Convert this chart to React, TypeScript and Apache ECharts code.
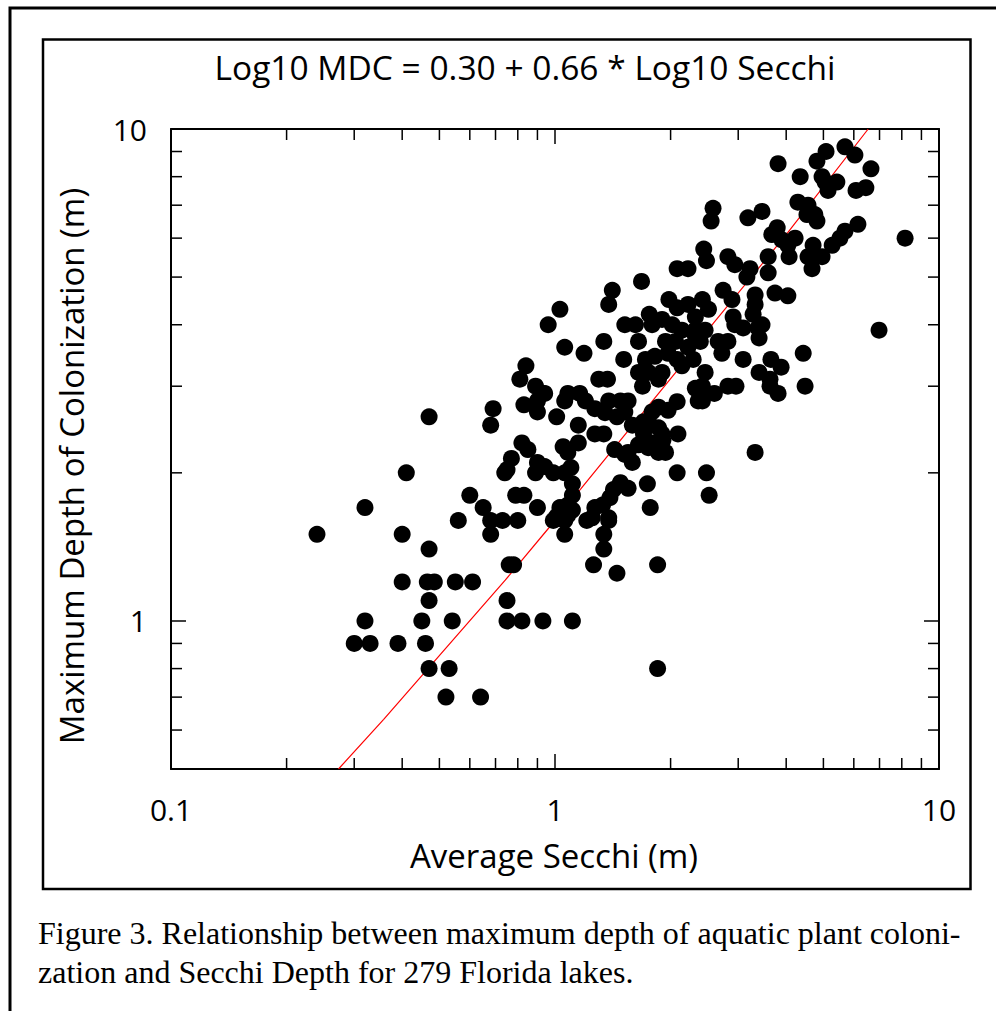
import React, { useEffect, useRef } from "react";
import * as echarts from "echarts";

// Average Secchi depth (m) for each lake
const secchi = [
  0.47, 0.69, 0.68, 0.41, 0.74, 0.6, 0.32, 0.65, 0.56, 0.68, 0.73, 0.24, 0.4, 0.68, 0.47, 0.4, 0.465, 0.485, 0.55, 0.61,
  0.47, 0.32, 0.45, 0.54, 0.3, 0.33, 0.39, 0.46, 0.47, 0.53, 0.52, 0.64, 0.8, 0.99, 1.06, 1.21, 1.38, 1.06, 1.34, 1.34,
  0.76, 0.78, 1.26, 1.45, 1.85, 0.75, 0.75, 0.82, 0.93, 1.11, 1.85, 0.96, 1.52, 1.62, 1.79, 2.02, 2.14, 2.32, 2.46, 1.06,
  1.19, 1.34, 1.65, 1.94, 2.06, 2.22, 2.32, 1.51, 1.72, 1.82, 1.97, 2.08, 2.14, 2.29, 1.65, 1.75, 1.69, 1.86, 1.9, 2.46,
  0.84, 0.81, 0.89, 0.93, 0.9, 0.94, 0.83, 0.9, 1.08, 1.16, 1.2, 1.06, 1.01, 1.15, 1.3, 1.37, 1.27, 1.38, 1.48, 1.55,
  1.35, 1.45, 1.52, 1.27, 1.34, 1.59, 1.7, 1.79, 1.86, 1.97, 2.08, 1.77, 1.86, 1.9, 1.7, 1.79, 1.91, 2.32, 2.36, 2.46,
  2.09, 0.82, 0.85, 0.77, 0.75, 1.05, 1.15, 1.08, 1.43, 1.52, 1.59, 1.55, 1.65, 1.75, 1.86, 1.94, 0.9, 0.94, 0.89, 0.99,
  1.06, 1.1, 2.08, 2.48, 1.11, 1.11, 1.08, 1.03, 1.48, 1.55, 1.42, 1.39, 1.74, 0.79, 0.83, 0.9, 1.01, 1.08, 1.11, 1.27,
  1.33, 1.25, 1.38, 1.77, 2.52, 2.58, 2.55, 2.44, 2.48, 2.08, 2.22, 1.68, 1.41, 1.38, 1.98, 2.08, 2.22, 2.42, 1.03, 1.76,
  1.9, 2.32, 5.69, 6.04, 5.08, 4.81, 3.81, 6.65, 4.35, 4.96, 5.05, 5.42, 5.14, 6.08, 6.45, 3.46, 3.18, 4.29, 4.56, 4.75,
  4.81, 4.53, 6.15, 5.69, 5.52, 5.27, 4.96, 4.7, 8.16, 3.79, 3.67, 3.9, 4.22, 4.04, 2.82, 2.94, 3.59, 4.07, 4.56, 4.67,
  3.22, 3.16, 3.59, 2.74, 2.89, 3.32, 3.32, 3.28, 3.74, 4.04, 2.51, 3.46, 2.91, 3.09, 6.98, 2.39, 2.94, 3.38, 3.4, 2.66,
  2.82, 2.72, 3.09, 3.65, 3.88, 4.43, 3.4, 3.63, 3.63, 3.81, 4.48, 2.82, 2.96, 2.6, 2.42, 2.42, 3.32,
];

// Maximum depth of colonization (m) for each lake
const mdc = [
  2.6, 2.7, 2.5, 2.0, 2.0, 1.8, 1.7, 1.7, 1.6, 1.6, 1.6, 1.5, 1.5, 1.5, 1.4, 1.2, 1.2, 1.2, 1.2, 1.2,
  1.1, 1.0, 1.0, 1.0, 0.9, 0.9, 0.9, 0.9, 0.8, 0.8, 0.7, 0.7, 1.6, 1.6, 1.6, 1.6, 1.6, 1.5, 1.5, 1.4,
  1.3, 1.3, 1.3, 1.25, 1.3, 1.1, 1.0, 1.0, 1.0, 1.0, 0.8, 4.0, 4.0, 4.0, 4.0, 4.0, 3.9, 3.9, 3.9, 3.6,
  3.5, 3.7, 3.7, 3.7, 3.7, 3.6, 3.8, 3.4, 3.4, 3.45, 3.5, 3.4, 3.3, 3.4, 3.2, 3.2, 3.0, 3.1, 3.2, 3.2,
  3.3, 3.1, 3.0, 2.9, 2.8, 2.9, 2.75, 2.66, 2.9, 2.9, 2.8, 2.8, 2.6, 2.5, 3.1, 3.1, 2.7, 2.8, 2.8, 2.8,
  2.65, 2.6, 2.66, 2.4, 2.4, 2.5, 2.54, 2.66, 2.72, 2.68, 2.79, 2.5, 2.47, 2.4, 2.4, 2.3, 2.33, 2.97, 2.8, 2.9,
  2.4, 2.3, 2.23, 2.14, 2.03, 2.26, 2.3, 2.2, 2.23, 2.18, 2.1, 2.2, 2.28, 2.25, 2.2, 2.2, 2.1, 2.06, 2.0, 2.0,
  2.0, 2.05, 2.0, 2.0, 1.9, 1.8, 1.72, 1.7, 1.91, 1.86, 1.85, 1.78, 1.9, 1.8, 1.8, 1.7, 1.63, 1.64, 1.68, 1.7,
  1.72, 1.62, 1.62, 1.7, 1.8, 6.9, 6.5, 5.7, 5.4, 5.2, 5.2, 4.9, 4.7, 4.4, 4.5, 4.33, 4.4, 4.5, 4.3, 4.2,
  4.1, 4.15, 9.2, 8.85, 9.0, 8.6, 8.5, 8.3, 8.0, 8.0, 7.8, 7.8, 7.5, 7.5, 7.6, 6.8, 6.6, 7.1, 7.0, 6.7,
  6.5, 6.7, 6.4, 6.2, 6.0, 5.8, 5.5, 5.8, 6.0, 6.3, 6.1, 5.95, 6.0, 5.8, 5.5, 5.3, 5.5, 5.5, 5.5, 5.2,
  5.2, 5.0, 5.1, 4.7, 4.5, 4.6, 4.4, 4.2, 4.64, 4.58, 4.3, 4.0, 4.15, 3.94, 3.9, 3.7, 4.0, 3.94, 3.76, 3.7,
  3.7, 3.5, 3.4, 3.4, 3.28, 3.5, 3.2, 3.1, 3.0, 2.9, 3.0, 3.0, 3.0, 2.9, 3.0, 2.8, 2.2,
];

// Fitted line, points
const fitSecchi = [0.273, 0.358, 0.742, 0.962, 1.17, 2.055, 2.586, 4.0, 6.54];
const fitMdc = [0.5, 0.631, 1.21, 1.543, 1.86, 3.19, 4.03, 6.1, 10.0];

// Axes
const xMin = 0.1;
const xMax = 10;
const yMin = 0.5;
const yMax = 10;
const xMajorTicks = [0.1, 1, 10];
const xTickLabels = ["0.1", "1", "10"];
const yMajorTicks = [1, 10];
const yTickLabels = ["1", "10"];
const xMinorTicks = [0.2, 0.3, 0.4, 0.5, 0.6, 0.7, 0.8, 0.9, 2, 3, 4, 5, 6, 7, 8, 9];
const yMinorTicks = [0.6, 0.7, 0.8, 0.9, 2, 3, 4, 5, 6, 7, 8, 9];

const titleText = "Log10 MDC = 0.30 + 0.66 * Log10 Secchi";
const xName = "Average Secchi (m)";
const yName = "Maximum Depth of Colonization (m)";
const captionLines = [
  "Figure 3. Relationship between maximum depth of aquatic plant coloni-",
  "zation and Secchi Depth for 279 Florida lakes.",
];

const SANS = "'Open Sans', 'Noto Sans', sans-serif";
const SERIF = "'Liberation Serif', 'DejaVu Serif', serif";

function labelFor(v: number, ticks: number[], labels: string[]) {
  for (let i = 0; i < ticks.length; i++) {
    if (Math.abs(Math.log10(v) - Math.log10(ticks[i])) < 1e-6) return labels[i];
  }
  return "";
}

export default function App() {
  const ref = useRef<HTMLDivElement>(null);

  useEffect(() => {
    if (!ref.current) return;
    const chart = echarts.init(ref.current, undefined, { renderer: "svg" });

    const axisLine = { show: true, onZero: false, lineStyle: { color: "#000", width: 2 } };
    const majorTick = { show: true, inside: true, length: 15, lineStyle: { color: "#000", width: 1.5 } };

    const minorLen = 11;

    chart.setOption({
      animation: false,
      backgroundColor: "#fff",
      grid: { left: 171, top: 129, width: 768, height: 640, containLabel: false },
      xAxis: [
        {
          type: "log",
          logBase: 10,
          min: xMin,
          max: xMax,
          position: "bottom",
          axisLine,
          axisTick: majorTick,
          splitLine: { show: false },
          axisLabel: {
            show: true,
            margin: 25,
            fontSize: 30,
            fontFamily: SANS,
            color: "#000",
            formatter: (v: number) => labelFor(v, xMajorTicks, xTickLabels),
          },
        },
        {
          type: "log",
          logBase: 10,
          min: xMin,
          max: xMax,
          position: "top",
          axisLine,
          axisTick: majorTick,
          splitLine: { show: false },
          axisLabel: { show: false },
        },
      ],
      yAxis: [
        {
          type: "log",
          logBase: 10,
          min: yMin,
          max: yMax,
          position: "left",
          axisLine,
          axisTick: majorTick,
          splitLine: { show: false },
          axisLabel: {
            show: true,
            margin: 24,
            fontSize: 30,
            fontFamily: SANS,
            color: "#000",
            showMinLabel: false,
            formatter: (v: number) => labelFor(v, yMajorTicks, yTickLabels),
          },
        },
        {
          type: "log",
          logBase: 10,
          min: yMin,
          max: yMax,
          position: "right",
          axisLine,
          axisTick: majorTick,
          splitLine: { show: false },
          axisLabel: { show: false },
        },
      ],
      series: [
        {
          type: "custom",
          coordinateSystem: "cartesian2d",
          xAxisIndex: 0,
          yAxisIndex: 0,
          silent: true,
          clip: false,
          z: 1,
          data: xMinorTicks.map((v) => [v, yMin]),
          renderItem: (_p: any, api: any) => {
            const b = api.coord([api.value(0), yMin]);
            const t = api.coord([api.value(0), yMax]);
            const st = { stroke: "#000", lineWidth: 1.5 };
            return {
              type: "group",
              children: [
                { type: "line", shape: { x1: b[0], y1: b[1], x2: b[0], y2: b[1] - minorLen }, style: st },
                { type: "line", shape: { x1: t[0], y1: t[1], x2: t[0], y2: t[1] + minorLen }, style: st },
              ],
            };
          },
        },
        {
          type: "custom",
          coordinateSystem: "cartesian2d",
          xAxisIndex: 0,
          yAxisIndex: 0,
          silent: true,
          clip: false,
          z: 1,
          data: yMinorTicks.map((v) => [xMin, v]),
          renderItem: (_p: any, api: any) => {
            const l = api.coord([xMin, api.value(1)]);
            const r = api.coord([xMax, api.value(1)]);
            const st = { stroke: "#000", lineWidth: 1.5 };
            return {
              type: "group",
              children: [
                { type: "line", shape: { x1: l[0], y1: l[1], x2: l[0] + minorLen, y2: l[1] }, style: st },
                { type: "line", shape: { x1: r[0], y1: r[1], x2: r[0] - minorLen, y2: r[1] }, style: st },
              ],
            };
          },
        },
        {
          type: "line",
          xAxisIndex: 0,
          yAxisIndex: 0,
          data: fitSecchi.map((x, i) => [x, fitMdc[i]]),
          symbol: "none",
          smooth: false,
          silent: true,
          z: 2,
          lineStyle: { color: "#ff0000", width: 1.2 },
        },
        {
          type: "scatter",
          xAxisIndex: 0,
          yAxisIndex: 0,
          data: secchi.map((x, i) => [x, mdc[i]]),
          symbol: "circle",
          symbolSize: 17,
          silent: true,
          z: 3,
          itemStyle: { color: "#000", opacity: 1 },
        },
      ],
      graphic: [
        {
          type: "rect",
          silent: true,
          shape: { x: 10, y: 8, width: 1000, height: 1020 },
          style: { fill: "none", stroke: "#000", lineWidth: 3 },
        },
        {
          type: "rect",
          silent: true,
          shape: { x: 43, y: 39.5, width: 927.5, height: 849.5 },
          style: { fill: "none", stroke: "#000", lineWidth: 2.5 },
        },
        {
          type: "text",
          silent: true,
          x: 525,
          y: 67,
          style: {
            text: titleText,
            fontSize: 33.5,
            fontFamily: SANS,
            fill: "#000",
            align: "center",
            verticalAlign: "middle",
          },
        },
        {
          type: "text",
          silent: true,
          x: 554,
          y: 855,
          style: {
            text: xName,
            fontSize: 33,
            fontFamily: SANS,
            fill: "#000",
            align: "center",
            verticalAlign: "middle",
          },
        },
        {
          type: "text",
          silent: true,
          x: 71,
          y: 466,
          rotation: Math.PI / 2,
          style: {
            text: yName,
            fontSize: 33,
            fontFamily: SANS,
            fill: "#000",
            align: "center",
            verticalAlign: "middle",
          },
        },
        {
          type: "text",
          silent: true,
          x: 38,
          y: 933,
          style: {
            text: captionLines[0],
            fontSize: 32,
            fontFamily: SERIF,
            fill: "#000",
            align: "left",
            verticalAlign: "middle",
          },
        },
        {
          type: "text",
          silent: true,
          x: 38,
          y: 972,
          style: {
            text: captionLines[1],
            fontSize: 32,
            fontFamily: SERIF,
            fill: "#000",
            align: "left",
            verticalAlign: "middle",
          },
        },
      ],
    });

    return () => chart.dispose();
  }, []);

  return (
    <div
      ref={ref}
      style={{ position: "absolute", left: 0, top: 0, width: 996, height: 1011, background: "#fff" }}
    />
  );
}
